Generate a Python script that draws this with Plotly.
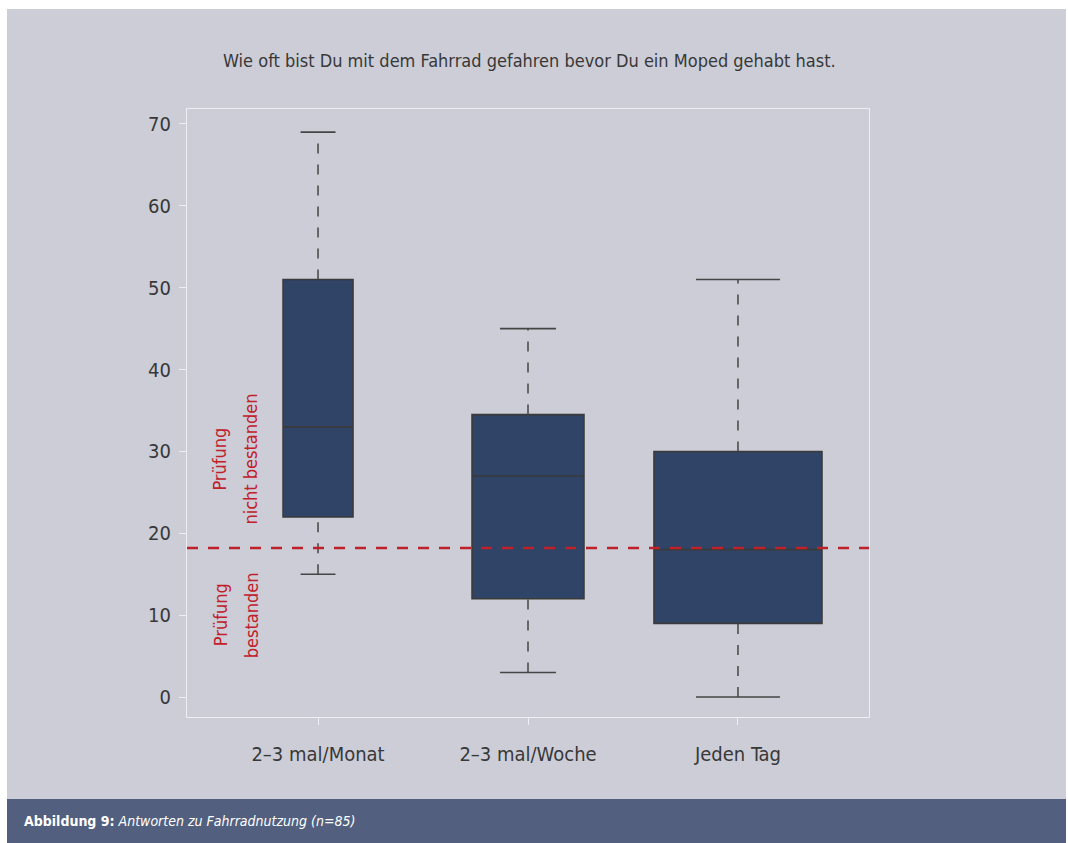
import plotly.graph_objects as go

# Antworten: Fahrradnutzung vor dem Moped vs. Fehlerpunkte in der Prüfung
categories = ["2–3 mal/Monat", "2–3 mal/Woche", "Jeden Tag"]
lower_whisker = [15, 3, 0]
q1 = [22, 12, 9]
median = [33, 27, 18]
q3 = [51, 34.5, 30]
upper_whisker = [69, 45, 51]
box_widths = [0.333, 0.533, 0.8]   # proportional to group size
threshold = 18.2
y_ticks = [0, 10, 20, 30, 40, 50, 60, 70]

FONT = "Liberation Sans Narrow, DejaVu Sans Condensed, Arial Narrow, sans-serif"
BG = "#cccdd7"
BOX_FILL = "#2f4466"
BOX_LINE = "#3a3a3a"
WHISKER = "#454545"
RED = "#c0202a"
TEXT = "#383838"
FRAME = "#eeeef3"

W, H = 1068, 843
L, R, T, B = 187, 199, 109, 126
pw, ph = W - L - R, H - T - B


def px(x):
    return (x - L) / pw


def py(y):
    return (H - B - y) / ph


fig = go.Figure()

for i, cat in enumerate(categories):
    w = box_widths[i]
    # box body (whiskers drawn separately so they can be dashed)
    fig.add_trace(go.Box(
        x=[i], q1=[q1[i]], median=[median[i]], q3=[q3[i]],
        lowerfence=[q1[i]], upperfence=[q3[i]],
        width=w, whiskerwidth=0,
        fillcolor=BOX_FILL, line=dict(color=BOX_LINE, width=1.6),
        boxpoints=False, hoverinfo="skip", showlegend=False, name=cat,
    ))
    # dashed whiskers
    for y0, y1 in ((q3[i], upper_whisker[i]), (lower_whisker[i], q1[i])):
        fig.add_trace(go.Scatter(
            x=[i, i], y=[y0, y1], mode="lines",
            line=dict(color=WHISKER, width=1.5, dash="10px,11px"),
            hoverinfo="skip", showlegend=False,
        ))
    # solid caps, half the box width
    for yc in (upper_whisker[i], lower_whisker[i]):
        fig.add_trace(go.Scatter(
            x=[i - w / 4, i + w / 4], y=[yc, yc], mode="lines",
            line=dict(color=WHISKER, width=1.6),
            hoverinfo="skip", showlegend=False,
        ))

# pass/fail threshold
fig.add_trace(go.Scatter(
    x=[-0.624, 2.624], y=[threshold, threshold], mode="lines",
    line=dict(color=RED, width=2.5, dash="11px,10px"),
    hoverinfo="skip", showlegend=False,
))

shapes = [
    # grey panel
    dict(type="rect", xref="paper", yref="paper",
         x0=px(7), x1=px(1066), y0=py(799), y1=py(9),
         fillcolor=BG, line=dict(width=0), layer="below"),
    # caption bar
    dict(type="rect", xref="paper", yref="paper",
         x0=px(7), x1=px(1066), y0=py(843), y1=py(799),
         fillcolor="#525f7e", line=dict(width=0), layer="below"),
]


def red_label(text, x_pix, y_val):
    return dict(text=text, textangle=-90,
                xref="paper", yref="y", x=px(x_pix), y=y_val,
                xanchor="center", yanchor="middle", showarrow=False,
                font=dict(family=FONT, size=18, color=RED))


annotations = [
    dict(text="Wie oft bist Du mit dem Fahrrad gefahren bevor Du ein Moped gehabt hast.",
         xref="paper", yref="paper", x=px(529), y=py(61),
         xanchor="center", yanchor="middle", showarrow=False,
         font=dict(family=FONT, size=18, color=TEXT)),
    red_label("Prüfung", 220, 29),
    red_label("nicht bestanden", 251, 29),
    red_label("Prüfung", 220, 10),
    red_label("bestanden", 251, 10),
    dict(text="<b>Abbildung 9:</b> <i>Antworten zu Fahrradnutzung (n=85)</i>",
         xref="paper", yref="paper", x=px(22), y=py(821),
         xanchor="left", yanchor="middle", showarrow=False,
         font=dict(family=FONT, size=14, color="white")),
]

fig.update_layout(
    width=W, height=H, autosize=False,
    margin=dict(l=L, r=R, t=T, b=B, pad=0),
    paper_bgcolor="white", plot_bgcolor="rgba(0,0,0,0)",
    shapes=shapes, annotations=annotations,
    showlegend=False,
    font=dict(family=FONT, color=TEXT),
)
fig.update_xaxes(
    range=[-0.624, 2.624], tickmode="array",
    tickvals=list(range(len(categories))), ticktext=categories,
    showgrid=False, zeroline=False,
    showline=True, mirror=True, linecolor=FRAME, linewidth=1,
    ticks="outside", ticklen=7, tickcolor=FRAME, tickwidth=1,
    tickfont=dict(family=FONT, size=20, color=TEXT),
    ticklabelstandoff=12,
)
fig.update_yaxes(
    range=[-2.44, 71.83], tickmode="array", tickvals=y_ticks,
    showgrid=False, zeroline=False,
    showline=True, mirror=True, linecolor=FRAME, linewidth=1,
    ticks="outside", ticklen=7, tickcolor=FRAME, tickwidth=1,
    tickfont=dict(family=FONT, size=20, color=TEXT),
    ticklabelstandoff=4,
)

fig.write_html("out.html")
